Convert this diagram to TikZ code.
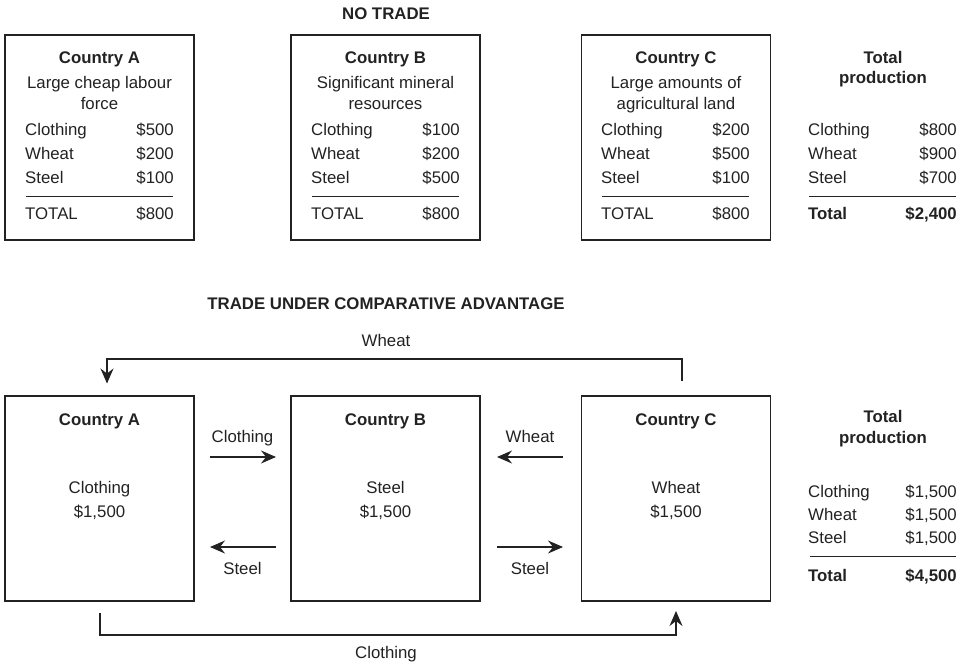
\documentclass[tikz,border=0pt]{standalone}
\usepackage{fontspec}
\setmainfont{Liberation Sans}
\usetikzlibrary{arrows.meta}
\definecolor{ink}{HTML}{222222}
\begin{document}
\begin{tikzpicture}[x=1pt,y=-1pt,
  box/.style={draw=ink, line width=1.2pt, minimum width=189pt, minimum height=205pt, inner sep=0pt},
  txt/.style={inner sep=0pt, text height=12pt, text depth=0pt, text=ink, font=\fontsize{16.8}{24}\selectfont},
  btxt/.style={txt, font=\fontsize{16.8}{24}\selectfont\bfseries},
  rule/.style={draw=ink, line width=1pt},
  conn/.style={draw=ink, line width=1.1pt},
  flow/.style={conn, -{Stealth[length=15pt,width=13pt,inset=5pt]}}]
\useasboundingbox (0,0) rectangle (968,664);

% ---------- NO TRADE ----------
\node[btxt] (t1) at (386,13) {NO TRADE};
\node[box] (nA) at (99.5,137.5) {};
\node[box] (nB) at (385.5,137.5) {};
\node[box] (nC) at (676,137.5) {};

\node[btxt] (nAh) at (99.5,57) {Country A};
\node[txt] (nAd1) at (99.5,82) {Large cheap labour};
\node[txt] (nAd2) at (99.5,103) {force};
\node[btxt] (nBh) at (385.5,57) {Country B};
\node[txt] (nBd1) at (385.5,82) {Significant mineral};
\node[txt] (nBd2) at (385.5,103) {resources};
\node[btxt] (nCh) at (676,57) {Country C};
\node[txt] (nCd1) at (676,82) {Large amounts of};
\node[txt] (nCd2) at (676,103) {agricultural land};
\node[btxt] (nTh1) at (883,57) {Total};
\node[btxt] (nTh2) at (883,77) {production};

% rows: left x, right x, name, values
\foreach \lx/\rx/\nm/\va/\vb/\vc in {25/174/a/500/200/100, 311/460/b/100/200/500, 601/750/c/200/500/100, 808/957/t/800/900/700}{
  \node[txt,anchor=west] (\nm cl) at (\lx,129) {Clothing};
  \node[txt,anchor=west] (\nm wh) at (\lx,153) {Wheat};
  \node[txt,anchor=west] (\nm st) at (\lx,177) {Steel};
  \node[txt,anchor=east] (\nm clv) at (\rx,129) {\$\va};
  \node[txt,anchor=east] (\nm whv) at (\rx,153) {\$\vb};
  \node[txt,anchor=east] (\nm stv) at (\rx,177) {\$\vc};
  \draw[rule] (\lx+1,196) -- (\rx-1,196);
}
\foreach \lx/\rx/\nm in {25/174/a, 311/460/b, 601/750/c}{
  \node[txt,anchor=west] (\nm tot) at (\lx,213) {TOTAL};
  \node[txt,anchor=east] (\nm totv) at (\rx,213) {\$800};
}
\node[btxt,anchor=west] (ttot) at (808,213) {Total};
\node[btxt,anchor=east] (ttotv) at (957,213) {\$2,400};

% ---------- TRADE ----------
\node[btxt] (t2) at (386,303) {TRADE UNDER COMPARATIVE ADVANTAGE};
\node[box] (A) at (99.5,498.5) {};
\node[box] (B) at (385.5,498.5) {};
\node[box] (C) at (676,498.5) {};

\node[btxt] (Ah) at (99.5,419) {Country A};
\node[txt] (Ag) at (99.5,487) {Clothing};
\node[txt] (Av) at (99.5,511) {\$1,500};
\node[btxt] (Bh) at (385.5,419) {Country B};
\node[txt] (Bg) at (385.5,487) {Steel};
\node[txt] (Bv) at (385.5,511) {\$1,500};
\node[btxt] (Ch) at (676,419) {Country C};
\node[txt] (Cg) at (676,487) {Wheat};
\node[txt] (Cv) at (676,511) {\$1,500};

% small flows between boxes
\coordinate (ab1) at (210,457); \coordinate (ab2) at (276,457);
\coordinate (ab3) at (276,547); \coordinate (ab4) at (210,547);
\coordinate (bc1) at (563,457); \coordinate (bc2) at (497,457);
\coordinate (bc3) at (497,547); \coordinate (bc4) at (563,547);
\draw[flow] (ab1) -- (ab2);
\draw[flow] (ab3) -- (ab4);
\draw[flow] (bc1) -- (bc2);
\draw[flow] (bc3) -- (bc4);
\node[txt] (lab1) at (242.5,436) {Clothing};
\node[txt] (lab2) at (242.5,568) {Steel};
\node[txt] (lab3) at (530,436) {Wheat};
\node[txt] (lab4) at (530,568) {Steel};

% loops
\coordinate (w0) at (682,381); \coordinate (w1) at (682,359);
\coordinate (w2) at (107,359); \coordinate (w3) at (107,383.5);
\draw[flow] (w0) -- (w1) -- (w2) -- (w3);
\node[txt] (lw) at (386,340) {Wheat};
\coordinate (c0) at (100,613); \coordinate (c1) at (100,635);
\coordinate (c2) at (676,635); \coordinate (c3) at (676,611);
\draw[flow] (c0) -- (c1) -- (c2) -- (c3);
\node[txt] (lc) at (386,652) {Clothing};

% total production (trade)
\node[btxt] (Th1) at (883,416) {Total};
\node[btxt] (Th2) at (883,437) {production};
\node[txt,anchor=west] (Tcl) at (808,491) {Clothing};
\node[txt,anchor=west] (Twh) at (808,514) {Wheat};
\node[txt,anchor=west] (Tst) at (808,537) {Steel};
\node[txt,anchor=east] (Tclv) at (957,491) {\$1,500};
\node[txt,anchor=east] (Twhv) at (957,514) {\$1,500};
\node[txt,anchor=east] (Tstv) at (957,537) {\$1,500};
\draw[rule] (810,556) -- (956,556);
\node[btxt,anchor=west] (Ttot) at (808,575) {Total};
\node[btxt,anchor=east] (Ttotv) at (957,575) {\$4,500};
\end{tikzpicture}
\end{document}
